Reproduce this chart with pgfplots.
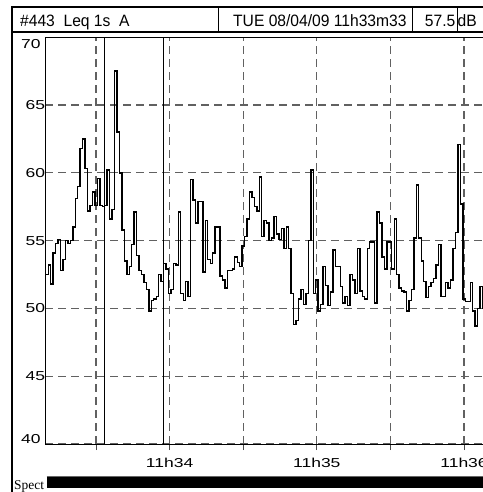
\documentclass[border=0pt]{standalone}
\usepackage{pgfplots}
\pgfplotsset{compat=1.18}
\usepackage{pgfplotstable}
\usepackage{fontspec}
\setmainfont{Liberation Sans}
\newfontfamily\tickfont[FakeStretch=1.35]{Liberation Sans}
\newfontfamily\hdrfont[FakeStretch=0.95]{Liberation Sans}
\newfontfamily\serffont{Liberation Serif}

\pgfplotstableread{
v
52.5
53.2
51.8
54.1
54.8
55.1
52.8
53.6
55.0
54.8
55.0
56.0
58.1
59.0
61.8
62.5
60.3
57.2
57.6
58.6
57.6
59.6
57.6
57.5
57.6
60.2
56.6
57.3
67.5
63.0
60.0
55.8
53.5
52.5
53.1
54.7
57.1
53.9
52.8
52.5
51.9
51.4
49.8
50.6
50.7
50.9
52.5
52.0
53.3
52.9
51.1
51.4
53.3
53.2
57.1
51.1
50.6
52.0
50.9
59.5
58.0
56.3
57.9
57.9
52.7
56.5
53.6
53.3
54.1
56.0
56.0
52.4
52.1
51.5
52.8
52.8
52.9
53.8
53.4
53.1
54.6
55.3
56.6
58.6
58.2
57.5
57.2
59.7
55.3
56.5
56.3
55.0
55.2
56.8
55.5
55.1
55.9
54.4
56.0
54.4
51.1
48.8
49.1
50.7
51.4
50.3
51.1
55.0
60.2
51.1
52.1
49.8
50.3
53.1
51.7
50.2
51.2
54.3
53.1
53.1
51.6
50.4
50.9
50.2
52.5
52.1
51.1
54.4
51.3
50.9
50.7
54.4
54.9
54.9
50.4
57.1
56.3
53.8
52.9
54.9
54.9
52.9
56.6
52.5
51.5
51.3
51.2
49.8
50.6
51.4
55.2
59.1
55.2
53.5
52.0
50.8
51.6
51.9
52.2
53.2
54.7
50.9
50.9
51.9
51.5
52.1
54.4
55.6
62.1
57.7
50.7
50.5
50.5
51.9
49.8
48.7
50.0
51.6
50.0
50.0
}\leqdata

\begin{document}
\begin{tikzpicture}[x=1bp,y=1bp]
% header
\draw[line width=1.4bp] (12bp,485bp) rectangle (495bp,460bp);
\draw[line width=1bp] (218bp,485bp) rectangle (495bp,460bp);
\draw[line width=1bp] (412bp,485bp) -- (412bp,460bp);
\draw[line width=1bp] (457bp,485bp) -- (457bp,460bp);
\node[anchor=base west, inner sep=0pt, font=\hdrfont\fontsize{16.5}{18}\selectfont] at (20bp,465.5bp) {\#443\ \ Leq 1s\ \ A};
\node[anchor=base west, inner sep=0pt, font=\hdrfont\fontsize{16.5}{18}\selectfont] at (233bp,465.5bp) {TUE 08/04/09 11h33m33};
\node[anchor=base east, inner sep=0pt, font=\hdrfont\fontsize{16.5}{18}\selectfont] at (455.5bp,465.5bp) {57.5};
\node[anchor=base west, inner sep=0pt, font=\hdrfont\fontsize{16.5}{18}\selectfont] at (457.5bp,465.5bp) {dB};
% left frame
\draw[line width=1.4bp] (12bp,485bp) -- (12bp,-5bp);

\begin{axis}[
  at={(45.3bp,48bp)}, anchor=south west,
  scale only axis, width=437.7bp, height=406.7bp,
  xmin=9.33, xmax=187.74, ymin=40, ymax=70,
  axis lines*=left,
  axis line style={line width=1bp, black},
  clip mode=individual,
  xtick={30,60,90,120,150,180},
  xticklabels={,11h34,,11h35,,11h36},
  ytick={40,45,50,55,60,65,70},
  yticklabels={,45,50,55,60,65,},
  grid=major,
  major grid style={line width=1.2bp, black!62, dash pattern=on 8bp off 5bp},
  tick align=outside,
  major tick length=6bp,
  xtick style={line width=1bp, black!70},
  ytick style={draw=none},
  /pgf/number format/assume math mode=true,
  yticklabel shift=-6bp,
  yticklabel style={font=\tickfont\fontsize{13}{13}\selectfont, inner sep=0pt, anchor=east},
  xticklabel style={font=\tickfont\fontsize{13}{13}\selectfont, inner sep=0pt, anchor=north, yshift=-8bp},
]
\addplot[black, line width=1bp, forget plot] coordinates {(33.38,40) (33.38,70)};
\addplot[black, line width=1bp, forget plot] coordinates {(57.43,40) (57.43,70)};
\addplot[const plot, black, line width=1.4bp, mark=none] table[x expr=\coordindex+9.55, y=v] {\leqdata};
\draw[line width=1bp, black] (rel axis cs:0,1) -- (rel axis cs:1,1);
\node[anchor=east, inner sep=0pt, font=\tickfont\fontsize{13}{13}\selectfont] at ([xshift=-4.5bp,yshift=-7bp]axis cs:9.33,70) {70};
\node[anchor=east, inner sep=0pt, font=\tickfont\fontsize{13}{13}\selectfont] at ([xshift=-4.5bp,yshift=5bp]axis cs:9.33,40) {40};
\end{axis}
% bottom spectrum bar
\node[anchor=base west, inner sep=0pt, font=\serffont\fontsize{13.5}{14}\selectfont] at (14bp,3bp) {Spect};
\draw[black!60, line width=0.8bp] (46.7bp,16bp) -- (490bp,16bp);
\fill[black] (46.7bp,3.7bp) rectangle (490bp,14.7bp);
\pgfresetboundingbox
\path (0bp,0bp) rectangle (483bp,492bp);
\end{tikzpicture}
\end{document}
